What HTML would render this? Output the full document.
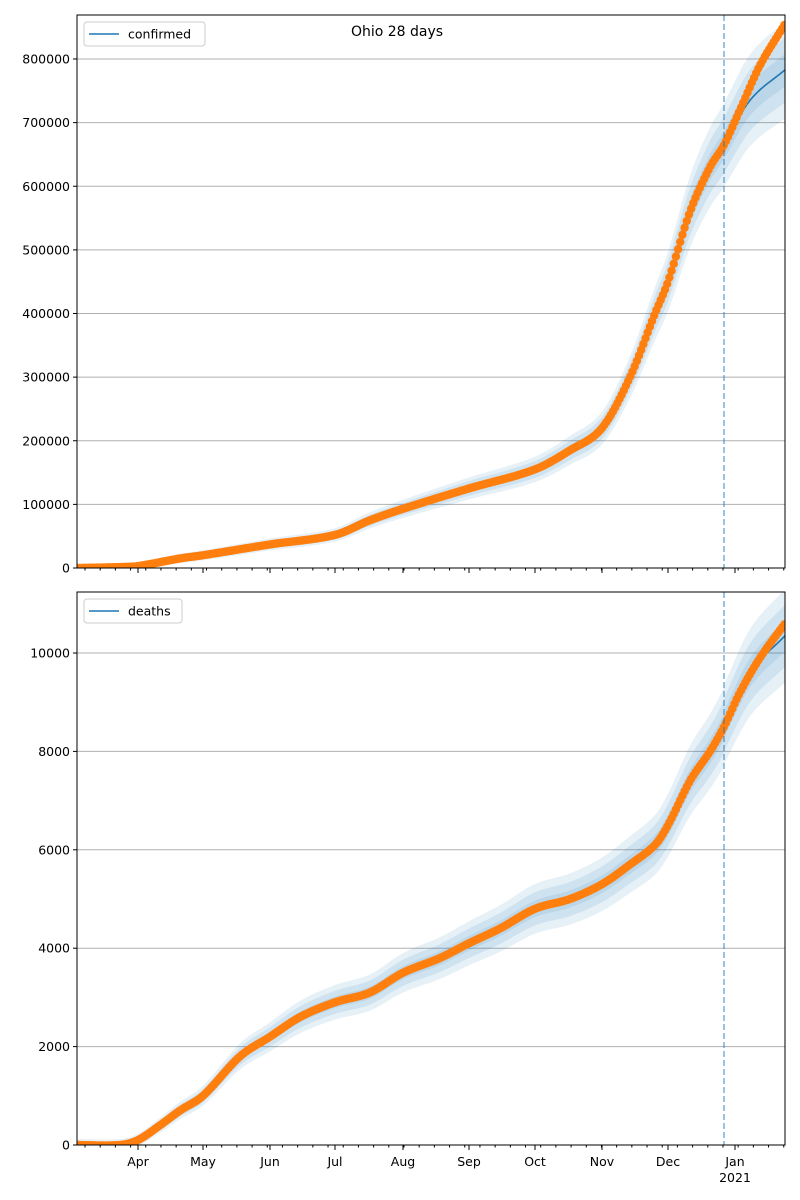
<!DOCTYPE html>
<html><head><meta charset="utf-8"><style>
body{margin:0;background:#fff;}
svg{display:block;font-family:"DejaVu Sans","Liberation Sans",sans-serif;}
</style></head><body>
<svg id="s" width="800" height="1200" xmlns="http://www.w3.org/2000/svg">
<rect width="800" height="1200" fill="#fff"/>
<g id="g"></g>
<text x="397" y="36" font-size="14" text-anchor="middle">Ohio 28 days</text>
</svg>
<script>
var NS="http://www.w3.org/2000/svg",g=document.getElementById('g');
function el(t,a,txt){var e=document.createElementNS(NS,t);for(var k in a)e.setAttribute(k,a[k]);if(txt!=null)e.textContent=txt;g.appendChild(e);return e;}
function interp(p,x){for(var i=1;i<p.length;i++){if(x<=p[i][0]){var p0=p[Math.max(i-2,0)],p1=p[i-1],p2=p[i],p3=p[Math.min(i+1,p.length-1)];var t=(x-p1[0])/(p2[0]-p1[0]);
var m1=(p2[1]-p0[1])/(p2[0]-p0[0]||1)*(p2[0]-p1[0]),m2=(p3[1]-p1[1])/(p3[0]-p1[0]||1)*(p2[0]-p1[0]);var t2=t*t,t3=t2*t;
return (2*t3-3*t2+1)*p1[1]+(t3-2*t2+t)*m1+(-2*t3+3*t2)*p2[1]+(t3-t2)*m2;}}return p[p.length-1][1];}
var X0=77,X1=785;
function panel(top,bot,vmax,ticks,data,model,relw,absw,label,legW){
  var sy=function(v){return bot-v/vmax*(bot-top);};
  var cid='c'+top;var cp=el('clipPath',{id:cid});var r=document.createElementNS(NS,'rect');r.setAttribute('x',X0);r.setAttribute('y',top);r.setAttribute('width',X1-X0);r.setAttribute('height',bot-top);cp.appendChild(r);
  ticks.forEach(function(t){var y=sy(t);el('line',{x1:X0,x2:X1,y1:y,y2:y,stroke:'#b0b0b0','stroke-width':1});el('line',{x1:X0-4,x2:X0,y1:y,y2:y,stroke:'#000'});el('text',{x:X0-7,y:y+4.5,'font-size':12.5,'text-anchor':'end'},String(t));});
  var grp=document.createElementNS(NS,'g');grp.setAttribute('clip-path','url(#'+cid+')');g.appendChild(grp);
  function add(t,a){var e=document.createElementNS(NS,t);for(var k in a)e.setAttribute(k,a[k]);grp.appendChild(e);return e;}
  [3,2,1].forEach(function(k){var up=[],dn=[];for(var x=X0;x<=X1;x+=2){var m=x<=724?interp(data,x):interp(model,x);var w=(m*relw+absw)*k/3;up.push(x+','+sy(m+w));dn.unshift(x+','+sy(Math.max(m-w,0)));}
    add('polygon',{points:up.concat(dn).join(' '),fill:'#1f77b4','fill-opacity':0.11});});
  var lp=[];for(var x=X0;x<=X1;x+=2){var m=x<=724?interp(data,x):interp(model,x);lp.push(x+','+sy(m));}
  add('polyline',{points:lp.join(' '),fill:'none',stroke:'#1f77b4','stroke-width':1.6});
  for(var x=X0;x<=X1;x+=2.17){add('circle',{cx:x,cy:sy(interp(data,x)),r:4.2,fill:'#ff7f0e'});}
  el('line',{x1:724,x2:724,y1:top,y2:bot,stroke:'#1f77b4','stroke-opacity':0.55,'stroke-width':1.6,'stroke-dasharray':'6,3'});
  el('rect',{x:X0,y:top,width:X1-X0,height:bot-top,fill:'none',stroke:'#000','stroke-width':1});
  el('rect',{x:84,y:top+7,width:legW,height:24,rx:3,fill:'#fff','fill-opacity':0.85,stroke:'#ccc'});
  el('line',{x1:89,x2:119,y1:top+19,y2:top+19,stroke:'#1f77b4','stroke-width':1.6});
  el('text',{x:128,y:top+23.5,'font-size':12.5},label);
  var months=[[138,'Apr'],[203,'May'],[270,'Jun'],[335,'Jul'],[403,'Aug'],[469,'Sep'],[535,'Oct'],[602,'Nov'],[668,'Dec'],[735,'Jan']];
  months.forEach(function(m){el('line',{x1:m[0],x2:m[0],y1:bot,y2:bot+5,stroke:'#000'});});
  for(var d=0;d<330;d+=7){var x=X0+8+d*2.17;if(x<X1)el('line',{x1:x,x2:x,y1:bot,y2:bot+2.5,stroke:'#000'});}
  return months;
}
var cdata=[[77,0],[120,1500],[138,3000],[180,15000],[203,20000],[270,37000],[335,52000],[370,75000],[403,93000],[469,125000],[535,155000],[570,185000],[602,220000],[630,300000],[655,400000],[668,450000],[690,560000],[710,630000],[724,665000],[740,720000],[760,790000],[785,855000]];
var cmodel=[[724,665000],[750,735000],[785,783000]];
panel(15,568,553*800000/509,[0,100000,200000,300000,400000,500000,600000,700000,800000],cdata,cmodel,0.09,6000,'confirmed',121);
var ddata=[[77,0],[120,0],[138,100],[160,400],[180,700],[203,1000],[240,1800],[270,2200],[300,2600],[335,2900],[370,3100],[403,3500],[440,3800],[469,4100],[500,4400],[535,4800],[570,5000],[602,5300],[630,5700],[655,6100],[668,6500],[690,7400],[710,8000],[724,8500],[740,9200],[760,9900],[785,10600]];
var dmodel=[[724,8550],[750,9600],[785,10350]];
var months=panel(592,1145,553*10000/492,[0,2000,4000,6000,8000,10000],ddata,dmodel,0.08,120,'deaths',98);
months.forEach(function(m){el('text',{x:m[0],y:1166,'font-size':12.5,'text-anchor':'middle'},m[1]);});
el('text',{x:735,y:1182,'font-size':12.5,'text-anchor':'middle'},'2021');
</script>
</body></html>
